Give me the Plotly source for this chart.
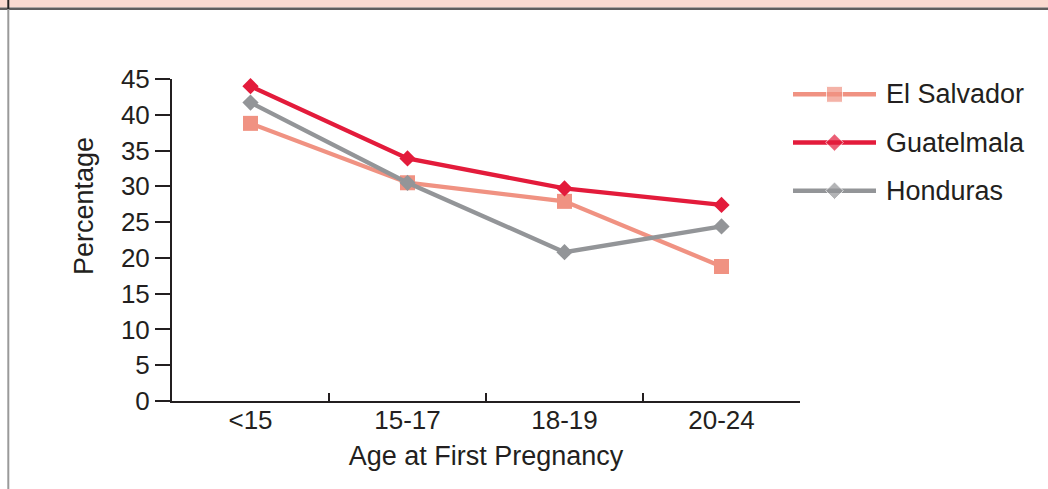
import plotly.graph_objects as go

# ---- data ----
categories = ["<15", "15-17", "18-19", "20-24"]
series_names = ["El Salvador", "Guatelmala", "Honduras"]
el_salvador = [38.8, 30.5, 27.9, 18.8]
guatemala = [44.0, 33.9, 29.7, 27.4]
honduras = [41.7, 30.5, 20.8, 24.4]
y_ticks = [0, 5, 10, 15, 20, 25, 30, 35, 40, 45]
x_title = "Age at First Pregnancy"
y_title = "Percentage"

series_values = [el_salvador, guatemala, honduras]
colors = ["#F09282", "#E31B3B", "#939598"]
symbols = ["square", "diamond", "diamond"]
sizes = [15, 12.5, 12.5]

W, H = 1048, 489
FONT = "Liberation Sans, Arial, Helvetica, sans-serif"
TXT = "#231F20"

# plot-area pixel box
L, R, T, B = 172, 800, 79, 401

fig = go.Figure()
for name, vals, c, s, sz in zip(series_names, series_values, colors, symbols, sizes):
    fig.add_trace(go.Scatter(
        x=categories, y=vals, name=name, mode="lines+markers",
        line=dict(color=c, width=4.3),
        marker=dict(symbol=s, size=sz, color=c),
        showlegend=False, xaxis="x", yaxis="y", cliponaxis=False,
    ))

# custom legend (drawn on an overlay axis so line samples are long)
rows_px = [94.3, 142.7, 190.7]
leg_x0, leg_x1 = 793, 876
leg_top = rows_px[0] - 24.1
leg_bot = rows_px[-1] + 24.1
for i, (name, c, s, sz) in enumerate(zip(series_names, colors, symbols, sizes)):
    fig.add_trace(go.Scatter(
        x=[0, 0.5, 1], y=[i, i, i], mode="lines+markers",
        line=dict(color=c, width=4.5),
        marker=dict(symbol=s, size=[0, sz + 1, 0], color=c),
        showlegend=False, hoverinfo="skip", xaxis="x2", yaxis="y2", cliponaxis=False,
    ))
    fig.add_annotation(
        x=884 / W, y=1 - rows_px[i] / H, xref="paper", yref="paper",
        text=name, showarrow=False, xanchor="left", yanchor="middle",
        font=dict(family=FONT, size=27, color=TXT),
    )

# y-axis title (positioned as in the reference, above the axis centre)
fig.add_annotation(
    x=84 / W, y=1 - 206 / H, xref="paper", yref="paper",
    text=y_title, showarrow=False, textangle=-90,
    xanchor="center", yanchor="middle",
    font=dict(family=FONT, size=27, color=TXT),
)

shapes = [
    # top pink band and rule
    dict(type="rect", xref="paper", yref="paper", x0=0, x1=1, y0=1 - 7.5 / H, y1=1,
         fillcolor="#F9DAD0", line=dict(width=0), layer="below"),
    dict(type="line", xref="paper", yref="paper", x0=0, x1=1, y0=1 - 8.7 / H, y1=1 - 8.7 / H,
         line=dict(color="#5E5E5E", width=2.5)),
    # left border
    dict(type="line", xref="paper", yref="paper", x0=8.3 / W, x1=8.3 / W, y0=0, y1=1 - 9 / H,
         line=dict(color="#9A9A9A", width=2)),
    dict(type="line", xref="paper", yref="paper", x0=8.3 / W, x1=8.3 / W, y0=1 - 9 / H, y1=1,
         line=dict(color="#222222", width=2)),
]

fig.update_layout(
    width=W, height=H,
    margin=dict(l=0, r=0, t=0, b=0, autoexpand=False),
    paper_bgcolor="white", plot_bgcolor="white",
    font=dict(family=FONT, size=26, color=TXT),
    shapes=shapes,
    xaxis=dict(
        domain=[L / W, R / W], type="category", range=[-0.5, 3.5],
        showline=True, linecolor=TXT, linewidth=2,
        ticks="inside", ticklen=8, tickwidth=2, tickcolor=TXT, tickson="boundaries",
        showgrid=False, zeroline=False,
        tickfont=dict(family=FONT, size=26, color=TXT),
        ticklabelstandoff=-5,
        title=dict(text=x_title, font=dict(family=FONT, size=27, color=TXT), standoff=12),
        anchor="y",
    ),
    yaxis=dict(
        domain=[1 - B / H, 1 - T / H], range=[0, 45],
        tickvals=y_ticks, ticktext=[str(v) for v in y_ticks],
        showline=True, linecolor=TXT, linewidth=2,
        ticks="outside", ticklen=15, tickwidth=2, tickcolor=TXT,
        showgrid=False, zeroline=False,
        tickfont=dict(family=FONT, size=26, color=TXT),
        anchor="x",
    ),
    xaxis2=dict(domain=[leg_x0 / W, leg_x1 / W], range=[0, 1], visible=False, anchor="y2"),
    yaxis2=dict(domain=[1 - leg_bot / H, 1 - leg_top / H], range=[2.5, -0.5], visible=False, anchor="x2"),
)

fig.write_html("out.html", config={"displayModeBar": False},
               post_script="document.body.style.margin='0px';")
